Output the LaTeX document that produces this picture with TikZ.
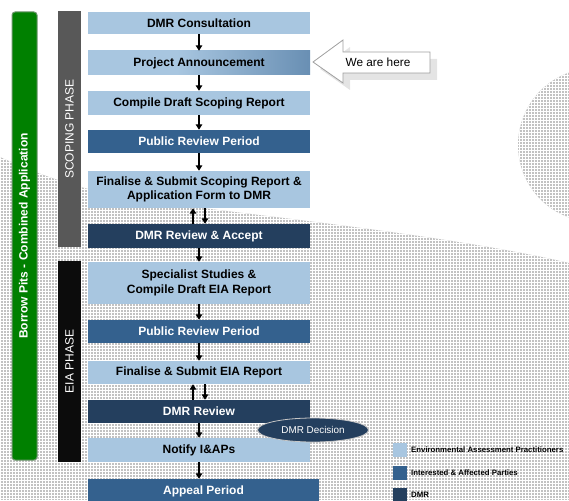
\documentclass[tikz,border=0pt]{standalone}
\usepackage{fontspec}
\setmainfont{Liberation Sans}
\usetikzlibrary{arrows.meta,shapes.geometric}
\definecolor{lblue}{RGB}{168,198,224}
\definecolor{mblue}{RGB}{52,97,142}
\definecolor{dblue}{RGB}{36,63,94}
\definecolor{bggray}{RGB}{194,194,194}
\definecolor{pgreen}{RGB}{0,128,0}
\definecolor{gborder}{RGB}{110,150,110}
\definecolor{sgray}{RGB}{88,88,88}
\definecolor{eblack}{RGB}{12,12,12}
\definecolor{shadowgray}{RGB}{228,228,228}
\pgfdeclarehorizontalshading{annshade}{100bp}{color(0bp)=(lblue); color(45bp)=(lblue); color(100bp)=(mblue)}
\begin{document}
\begin{tikzpicture}[x=1pt,y=-1pt,
  box/.style={rectangle, inner sep=0pt, minimum width=222pt, minimum height=23pt, align=center,
    font=\bfseries\fontsize{12}{14}\selectfont},
  lbox/.style={box, fill=lblue, text=black},
  mbox/.style={box, fill=mblue, text=white},
  dbox/.style={box, fill=dblue, text=white},
  arr/.style={line width=1.4pt, -{Triangle[width=6.5pt,length=5.5pt]}},
  phasebar/.style={rectangle, inner sep=0pt, rotate=90, minimum height=23pt, text=white,
    font=\fontsize{12}{13}\selectfont},
  legsq/.style={rectangle, inner sep=0pt, minimum size=14pt},
  legtxt/.style={anchor=west, inner sep=0pt, font=\bfseries\fontsize{7.8}{9}\selectfont}
]
\useasboundingbox (0,0) rectangle (569,500);
\clip (0,0) rectangle (569,500);

% textured background
\begin{scope}
  \clip (0,157) .. controls (40,175) and (80,190) .. (140,200)
        .. controls (250,215) and (450,235) .. (569,263) -- (569,500) -- (0,500) -- cycle
        (595,145) circle (77pt);
  \fill[bggray] (0,0) rectangle (569,500);
  \draw[white, line width=0.5pt] (0,0) grid[step=3pt] (569,500);
\end{scope}

% side bars
\node[phasebar, fill=pgreen, draw=gborder, line width=1pt, rounded corners=3pt,
  minimum width=448pt, minimum height=25pt, font=\bfseries\fontsize{12}{14}\selectfont]
  (gbar) at (24.5,236) {Borrow Pits - Combined Application};
\node[phasebar, fill=sgray, minimum width=236pt] (scop) at (69.5,129) {SCOPING PHASE};
\node[phasebar, fill=eblack, minimum width=201pt] (eia) at (69.5,361.5) {EIA PHASE};

% process boxes
\node[lbox, minimum height=22pt] (b1) at (199,23) {DMR Consultation};
\node[box, shading=annshade, minimum height=24pt] (b2) at (199,63) {Project Announcement};
\node[lbox, minimum height=24pt] (b3) at (199,103) {Compile Draft Scoping Report};
\node[mbox] (b4) at (199,141.5) {Public Review Period};
\node[lbox, minimum height=37pt] (b5) at (199,189.5) {Finalise \& Submit Scoping Report \&\\Application Form to DMR};
\node[dbox, minimum height=24pt] (b6) at (199,236) {DMR Review \& Accept};
\node[lbox, minimum height=42pt, font=\bfseries\fontsize{12}{15}\selectfont] (b7) at (199,283) {Specialist Studies \&\\Compile Draft EIA Report};
\node[mbox] (b8) at (199,331.5) {Public Review Period};
\node[lbox] (b9) at (199,372.5) {Finalise \& Submit EIA Report};
\node[dbox] (b10) at (199,411.5) {DMR Review};
\node[lbox, minimum height=24pt] (b11) at (199,450) {Notify I\&APs};
\node[mbox, minimum width=231pt, minimum height=24pt] (b12) at (203.5,491) {Appeal Period};

% connectors
\draw[arr] (b1.south) -- (b2.north);
\draw[arr] (b2.south) -- (b3.north);
\draw[arr] (b3.south) -- (b4.north);
\draw[arr] (b4.south) -- (b5.north);
\draw[arr] ([xshift=-6pt]b6.north) -- ([xshift=-6pt]b5.south);
\draw[arr] ([xshift=6pt]b5.south) -- ([xshift=6pt]b6.north);
\draw[arr] (b6.south) -- (b7.north);
\draw[arr] (b7.south) -- (b8.north);
\draw[arr] (b8.south) -- (b9.north);
\draw[arr] ([xshift=-6pt]b10.north) -- ([xshift=-6pt]b9.south);
\draw[arr] ([xshift=6pt]b9.south) -- ([xshift=6pt]b10.north);
\draw[arr] (b10.south) -- (b11.north);
\draw[arr] (b11.south) -- (b11.south |- b12.north);

% decision ellipse
\node[ellipse, fill=dblue, draw=gray!45, line width=0.8pt, minimum width=111pt, minimum height=24pt,
  inner sep=0pt, text=white, font=\fontsize{9.9}{11}\selectfont] (dec) at (313,430) {DMR Decision};

% "We are here" callout arrow
\fill[shadowgray] (320,69) -- (350,47) -- (350,59) -- (437,59) -- (437,80) -- (350,80) -- (350,90) -- cycle;
\draw[gray!75, fill=white, line width=0.8pt] (313,62) -- (343,40) -- (343,52) -- (430,52) -- (430,73) -- (343,73) -- (343,83) -- cycle;
\node[inner sep=0pt, font=\fontsize{11.8}{13}\selectfont] (here) at (378,62) {We are here};

% legend
\node[legsq, fill=lblue] (l1) at (400,450) {};
\node[legsq, fill=mblue] (l2) at (400,473) {};
\node[legsq, fill=dblue] (l3) at (400,495) {};
\node[legtxt] (t1) at (411,450) {Environmental Assessment Practitioners};
\node[legtxt] (t2) at (411,473) {Interested \& Affected Parties};
\node[legtxt] (t3) at (411,495) {DMR};
\end{tikzpicture}
\end{document}
